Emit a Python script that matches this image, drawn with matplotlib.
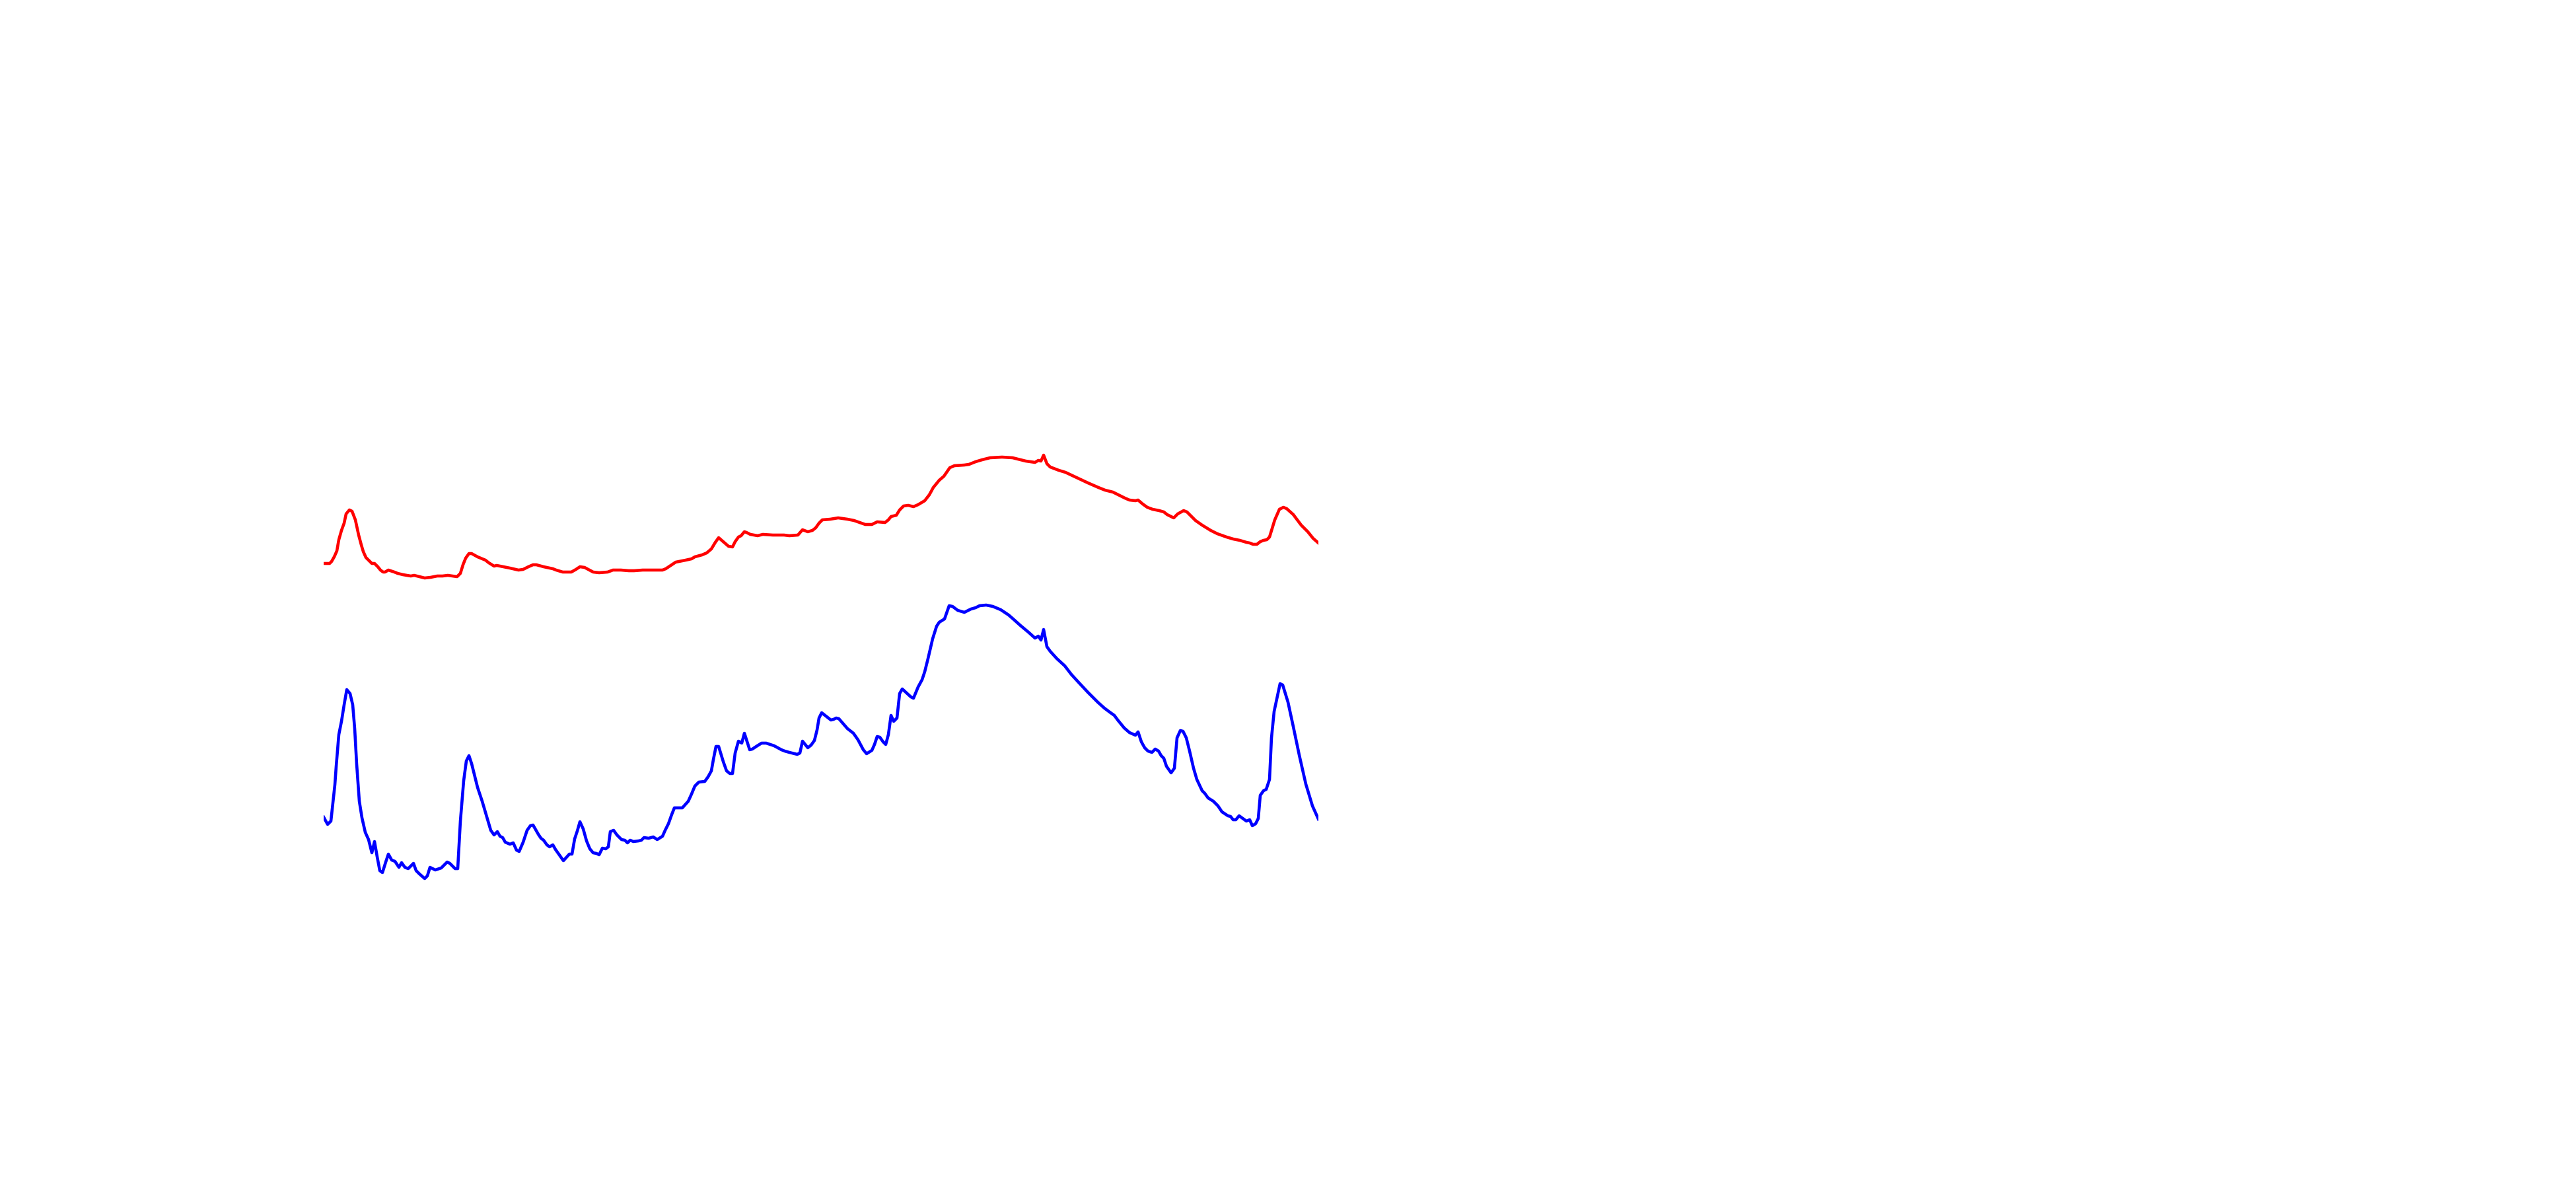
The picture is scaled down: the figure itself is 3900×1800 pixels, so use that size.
import matplotlib
matplotlib.use("Agg")
import matplotlib.pyplot as plt

# red trace (position, intensity)
red_x = [0, 9, 12, 16, 20, 23, 27, 31, 34, 39, 43, 48, 53, 57, 60, 64, 68, 73, 77, 82,
         86, 90, 93, 98, 107, 112, 120, 132, 137, 145, 153, 162, 172, 180, 188, 202, 207,
         211, 215, 220, 224, 233, 245, 250, 258, 262, 267, 282, 295, 302, 310, 317, 322,
         333, 347, 352, 362, 375, 382, 388, 395, 408, 417, 430, 438, 450, 462, 470, 483,
         499, 503, 513, 518, 533, 548, 557, 562, 573, 580, 587, 593, 598, 605, 613, 619,
         623, 628, 632, 637, 640, 646, 657, 665, 680, 697, 705, 718, 725, 733, 740, 745,
         750, 755, 767, 779, 793, 803, 820, 830, 838, 850, 855, 859, 867, 872, 878, 885,
         893, 900, 910, 917, 923, 932, 939, 948, 955, 970, 977, 987, 997, 1009, 1027, 1043,
         1063, 1077, 1082, 1086, 1090, 1095, 1100, 1113, 1123, 1140, 1157, 1173, 1183, 1195,
         1203, 1213, 1220, 1229, 1233, 1240, 1247, 1255, 1265, 1272, 1277, 1287, 1293, 1302,
         1307, 1320, 1330, 1343, 1353, 1367, 1377, 1387, 1397, 1402, 1407, 1413, 1418, 1423,
         1428, 1432, 1436, 1440, 1447, 1453, 1458, 1468, 1480, 1490, 1498, 1506]
red_y = [547, 547, 550, 557, 566, 583, 597, 608, 622, 628, 626, 613, 590, 575, 565, 556, 552,
         547, 547, 542, 537, 534, 534, 537, 534, 532, 530, 528, 529, 527, 525, 526, 528, 528,
         529, 527, 532, 545, 555, 562, 562, 557, 552, 548, 543, 544, 543, 540, 537, 538, 542,
         545, 545, 542, 539, 537, 534, 534, 538, 542, 541, 534, 533, 534, 537, 537, 536, 536,
         537, 537, 537, 537, 539, 549, 552, 554, 557, 560, 563, 569, 579, 586, 580, 573, 572,
         580, 587, 589, 595, 594, 591, 589, 591, 590, 590, 589, 590, 598, 595, 597, 601, 608,
         613, 614, 616, 614, 612, 606, 606, 610, 609, 613, 618, 620, 628, 634, 635, 633, 636,
         642, 651, 662, 673, 679, 692, 695, 696, 697, 701, 704, 707, 708, 707, 702, 700, 703,
         702, 711, 698, 693, 688, 685, 677, 669, 662, 658, 655, 651, 646, 643, 642, 643, 637,
         632, 629, 627, 625, 621, 616, 622, 627, 625, 612, 605, 597, 592, 587, 584, 582, 579,
         578, 576, 576, 580, 582, 583, 587, 600, 613, 629, 632, 630, 621, 605, 595, 585, 578]

# blue trace (position, intensity)
blue_x = [0, 6, 11, 14, 17, 19, 23, 27, 31, 35, 40, 44, 47, 50, 54, 58, 63, 68, 73, 77, 81,
          85, 89, 94, 98, 103, 108, 114, 118, 123, 128, 136, 140, 145, 153, 157, 161, 169,
          178, 187, 191, 199, 203, 207, 212, 216, 220, 224, 233, 240, 248, 253, 258, 263,
          267, 271, 275, 282, 287, 292, 296, 302, 308, 313, 317, 325, 329, 333, 338, 342,
          347, 351, 363, 372, 376, 380, 384, 388, 393, 398, 403, 408, 413, 417, 422, 427,
          431, 434, 439, 444, 451, 456, 460, 464, 469, 477, 481, 485, 492, 499, 505, 513,
          517, 522, 527, 531, 543, 552, 557, 562, 568, 577, 582, 587, 590, 594, 598, 605,
          610, 615, 619, 623, 628, 633, 637, 645, 649, 655, 663, 670, 682, 693, 698, 705,
          713, 717, 721, 725, 733, 738, 743, 747, 750, 754, 768, 772, 776, 780, 793, 802,
          809, 817, 822, 830, 834, 838, 842, 847, 851, 855, 859, 863, 868, 872, 876, 889,
          893, 900, 906, 910, 915, 922, 928, 932, 940, 947, 952, 960, 970, 980, 987, 993,
          1003, 1013, 1025, 1037, 1045, 1055, 1067, 1077, 1082, 1086, 1090, 1095, 1100, 1110,
          1122, 1132, 1143, 1157, 1163, 1172, 1182, 1190, 1197, 1203, 1212, 1220, 1229, 1233,
          1238, 1243, 1248, 1254, 1259, 1264, 1268, 1272, 1276, 1283, 1288, 1292, 1297, 1301,
          1306, 1311, 1317, 1322, 1330, 1334, 1339, 1347, 1354, 1360, 1369, 1373, 1377, 1381,
          1386, 1397, 1402, 1406, 1411, 1415, 1418, 1423, 1427, 1432, 1435, 1439, 1448, 1452,
          1460, 1468, 1477, 1487, 1497, 1506]
blue_y = [163, 152, 157, 185, 212, 240, 288, 308, 333, 356, 350, 333, 297, 243, 187, 162, 140,
          129, 109, 126, 103, 82, 79, 95, 107, 98, 96, 87, 94, 87, 85, 93, 82, 77, 70, 74, 87,
          83, 86, 95, 93, 85, 85, 157, 218, 248, 256, 244, 208, 187, 160, 143, 136, 141, 134,
          132, 125, 122, 124, 113, 111, 125, 143, 150, 151, 137, 131, 128, 121, 118, 121, 114,
          97, 107, 107, 130, 142, 156, 145, 127, 115, 109, 108, 106, 116, 115, 118, 141, 143,
          136, 129, 128, 124, 128, 126, 127, 128, 132, 131, 133, 129, 134, 143, 153, 167, 177,
          177, 187, 198, 210, 216, 217, 224, 233, 250, 270, 270, 247, 233, 229, 229, 260, 278,
          275, 290, 265, 266, 270, 275, 275, 271, 265, 263, 261, 259, 258, 260, 278, 268, 272,
          279, 295, 313, 321, 310, 311, 313, 312, 297, 290, 280, 265, 259, 264, 273, 285, 284,
          277, 273, 288, 317, 308, 313, 350, 357, 345, 343, 360, 371, 383, 403, 433, 452, 458,
          463, 483, 482, 476, 473, 478, 480, 483, 484, 482, 477, 469, 462, 453, 443, 434, 437,
          431, 447, 421, 414, 403, 392, 379, 367, 352, 346, 337, 328, 322, 317, 309, 298, 291,
          287, 292, 277, 268, 263, 261, 266, 263, 256, 252, 240, 230, 237, 283, 294, 293, 283,
          263, 237, 220, 203, 199, 192, 187, 180, 171, 165, 164, 159, 159, 165, 157, 159, 150,
          153, 161, 196, 203, 205, 220, 283, 323, 365, 363, 337, 300, 257, 213, 180, 160]

fig = plt.figure(figsize=(13, 6), dpi=300)
fig.patch.set_facecolor("white")

# axes sits where the traces are in the original, no frame or ticks
ax = fig.add_axes([490 / 3900, 400 / 1800, 1506 / 3900, 1400 / 1800])
ax.plot(red_x, red_y, color="red", lw=1.1)
ax.plot(blue_x, blue_y, color="blue", lw=1.1)
ax.set_xlim(0, 1506)
ax.set_ylim(0, 1400)
ax.axis("off")

fig.savefig("out.png", dpi=300, facecolor="white")
